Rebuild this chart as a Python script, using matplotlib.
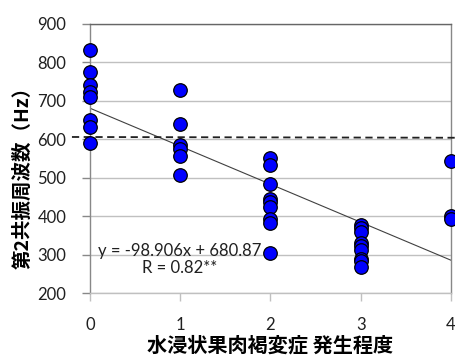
import matplotlib
matplotlib.use("Agg")
import matplotlib.pyplot as plt
import numpy as np

plt.rcParams['font.family'] = ['Noto Sans CJK JP', 'DejaVu Sans']

# data
x0 = [0]*8
y0 = [832, 774, 741, 724, 711, 650, 633, 591]
x1 = [1]*6
y1 = [727, 641, 585, 574, 556, 507]
x2 = [2]*9
y2 = [551, 534, 484, 445, 436, 425, 392, 383, 304]
x3 = [3]*9
y3 = [377, 368, 360, 330, 322, 313, 288, 282, 268]
x4 = [4]*3
y4 = [544, 401, 392]
xs = x0 + x1 + x2 + x3 + x4
ys = y0 + y1 + y2 + y3 + y4

slope, intercept = -98.906, 680.87
threshold = 606
xticks = [0, 1, 2, 3, 4]
yticks = [200, 300, 400, 500, 600, 700, 800, 900]
xlabel = "水浸状果肉褐変症 発生程度"
ylabel = "第2共振周波数（Hz）"
eq_text = "y = -98.906x + 680.87\nR = 0.82**"

fig = plt.figure(figsize=(4.56, 3.57), dpi=100)
ax = fig.add_axes([90/456, 64/357, 361/456, 269/357])
ax.set_xlim(0, 4)
ax.set_ylim(200, 900)

for yt in yticks:
    ax.axhline(yt, color='#c0c0c0', lw=1.0, zorder=0)

ax.spines['left'].set_color('#888888')
ax.spines['right'].set_color('#888888')
ax.spines['top'].set_color('#666666')
ax.spines['bottom'].set_color('#c0c0c0')
for s in ax.spines.values():
    s.set_linewidth(1.0)

ax.set_xticks(xticks)
ax.set_yticks(yticks)
ax.tick_params(axis='y', length=6, width=1, color='#888888', pad=11, labelsize=12)
ax.tick_params(axis='x', length=6, width=1, color='#c0c0c0', pad=11, labelsize=12)
for lab in ax.get_xticklabels() + ax.get_yticklabels():
    lab.set_fontfamily(['Lato', 'DejaVu Sans'])
    lab.set_color('#202020')

xl = np.array([0, 4])
ax.plot(xl, slope*xl + intercept, color='#404040', lw=0.8, zorder=2)

ax.plot([-0.2, 4.1], [threshold, threshold - 2], color='#202020', lw=1.3,
        ls=(0, (4, 2.5)), clip_on=False, zorder=3)

ax.scatter(xs, ys, s=95, c='#0000ff', edgecolors='black', linewidths=0.9,
           zorder=5, clip_on=False)

ax.text(0.995, 288, eq_text, ha='center', va='center', fontsize=12,
        family=['Lato', 'DejaVu Sans'], color='#202020', linespacing=1.05,
        multialignment='center')

ax.set_xlabel(xlabel, fontsize=14.5, fontweight='bold', va='center')
ax.xaxis.set_label_coords(0.5, (293 - 345) / 269)
ax.set_ylabel(ylabel, fontsize=14, fontweight='bold', va='center')
ax.yaxis.set_label_coords((23 - 90) / 361, 0.445)

fig.savefig("out.png", dpi=100)
